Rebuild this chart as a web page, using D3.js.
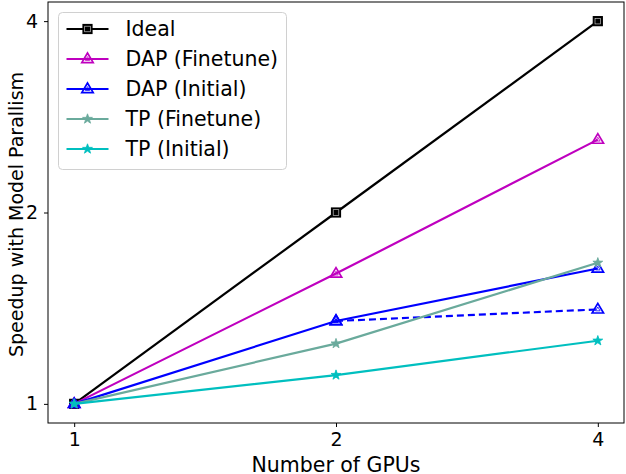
<!DOCTYPE html>
<html>
<head>
<meta charset="utf-8">
<script src="https://cdn.jsdelivr.net/npm/d3@7"></script>
<style>
  body { margin: 0; background: #fff; }
  text { font-family: "DejaVu Sans", sans-serif; }
</style>
</head>
<body>
<div id="wrapper"></div>
<script>
// 1. Access data
const gpus = [1, 2, 4]
const tickLabels = ["1", "2", "4"]

const ideal = [1, 2, 4]
const dapFinetune = [1, 1.603, 2.604]
const dapInitial = [1, 1.35, 1.633]
const dapInitialDashed = [null, 1.35, 1.408]
const tpFinetune = [1, 1.244, 1.667]
const tpInitial = [1, 1.11, 1.257]

const series = [
    { name: "Ideal", values: ideal, color: "#000000", marker: "square", legend: true },
    { name: "DAP (Finetune)", values: dapFinetune, color: "#bf00bf", marker: "triangle", legend: true },
    { name: "DAP (Initial)", values: dapInitial, color: "#0000ff", marker: "triangle", legend: true },
    { name: "dashed", values: dapInitialDashed, color: "#0000ff", marker: "triangle", dash: "7,4", legend: false },
    { name: "TP (Finetune)", values: tpFinetune, color: "#6aaa9c", marker: "star", legend: true },
    { name: "TP (Initial)", values: tpInitial, color: "#00bfbf", marker: "star", legend: true },
]

// 2. Create chart dimensions
let dimensions = {
    width: 626,
    height: 474,
    margin: {
        top: 2,
        right: 2,
        bottom: 51,
        left: 48,
    },
}
dimensions.boundedWidth = dimensions.width
    - dimensions.margin.left
    - dimensions.margin.right
dimensions.boundedHeight = dimensions.height
    - dimensions.margin.top
    - dimensions.margin.bottom

// 3. Draw canvas
const wrapper = d3.select("#wrapper")
    .append("svg")
    .attr("width", dimensions.width)
    .attr("height", dimensions.height)

const bounds = wrapper.append("g")
    .attr("transform", `translate(${dimensions.margin.left},${dimensions.margin.top})`)

// 4. Create scales (log2, with matplotlib-like 5% padding)
const pad = 0.1
const xScale = d3.scaleLog().base(2)
    .domain([Math.pow(2, -pad), Math.pow(2, 2 + pad)])
    .range([0, dimensions.boundedWidth])

const yScale = d3.scaleLog().base(2)
    .domain([Math.pow(2, -pad), Math.pow(2, 2 + pad)])
    .range([dimensions.boundedHeight, 0])

// marker helpers
const starPath = (r) => {
    const pts = []
    for (let i = 0; i < 10; i++) {
        const a = -Math.PI / 2 + i * Math.PI / 5
        const rr = i % 2 === 0 ? r : r * 0.4
        pts.push([rr * Math.cos(a), rr * Math.sin(a)])
    }
    return "M" + pts.map(p => p.join(",")).join("L") + "Z"
}
const triPath = (r) => `M0,${-r}L${r * 0.95},${r * 0.6}L${-r * 0.95},${r * 0.6}Z`

function drawMarker(g, type, color) {
    if (type === "square") {
        g.append("rect")
            .attr("x", -4.5).attr("y", -4.5)
            .attr("width", 9).attr("height", 9)
            .attr("fill", "#000").attr("stroke", color).attr("stroke-width", 1.2)
        g.append("rect")
            .attr("x", -2.8).attr("y", -2.8)
            .attr("width", 5.6).attr("height", 5.6)
            .attr("fill", "#000").attr("stroke", "#ddd").attr("stroke-width", 0.6)
    } else if (type === "triangle") {
        g.append("path")
            .attr("d", triPath(6))
            .attr("fill", "none").attr("stroke", color).attr("stroke-width", 1.7)
        g.append("path")
            .attr("d", triPath(2.4))
            .attr("fill", "none").attr("stroke", color).attr("stroke-width", 0.8)
    } else {
        g.append("path")
            .attr("d", starPath(5.2))
            .attr("fill", color).attr("stroke", color).attr("stroke-width", 0.8)
    }
}

// 5. Draw data
const lineGenerator = d3.line()
    .defined(d => d[1] != null)
    .x(d => xScale(d[0]))
    .y(d => yScale(d[1]))

series.forEach(s => {
    const pts = gpus.map((g, i) => [g, s.values[i]])
    bounds.append("path")
        .datum(pts)
        .attr("d", lineGenerator)
        .attr("fill", "none")
        .attr("stroke", s.color)
        .attr("stroke-width", 2.2)
        .attr("stroke-dasharray", s.dash || null)
    pts.filter(p => p[1] != null).forEach(p => {
        const m = bounds.append("g")
            .attr("transform", `translate(${xScale(p[0])},${yScale(p[1])})`)
        drawMarker(m, s.marker, s.color)
    })
})

// 6. Draw peripherals
bounds.append("rect")
    .attr("width", dimensions.boundedWidth)
    .attr("height", dimensions.boundedHeight)
    .attr("fill", "none")
    .attr("stroke", "#000")
    .attr("stroke-width", 1)

const xAxisGenerator = d3.axisBottom(xScale)
    .tickValues(gpus)
    .tickFormat((d, i) => tickLabels[i])
    .tickSize(4)
    .tickPadding(6)

const xAxis = bounds.append("g")
    .attr("transform", `translate(0,${dimensions.boundedHeight})`)
    .call(xAxisGenerator)
xAxis.select(".domain").remove()
xAxis.selectAll("text")
    .attr("font-size", 19)
    .attr("font-family", "DejaVu Sans")
    .attr("fill", "#000")

xAxis.append("text")
    .attr("x", xScale(2))
    .attr("y", 49)
    .attr("text-anchor", "middle")
    .attr("font-size", 20.5)
    .attr("fill", "#000")
    .text("Number of GPUs")

const yAxisGenerator = d3.axisLeft(yScale)
    .tickValues(ideal)
    .tickFormat((d, i) => tickLabels[i])
    .tickSize(4)
    .tickPadding(6)

const yAxis = bounds.append("g")
    .call(yAxisGenerator)
yAxis.select(".domain").remove()
yAxis.selectAll("text")
    .attr("font-size", 19)
    .attr("font-family", "DejaVu Sans")
    .attr("fill", "#000")

yAxis.append("text")
    .attr("transform", `translate(-25,${yScale(2) + 2}) rotate(-90)`)
    .attr("text-anchor", "middle")
    .attr("font-size", 19)
    .attr("fill", "#000")
    .text("Speedup with Model Parallism")

// legend
const legend = bounds.append("g")
    .attr("transform", `translate(${58.5 - dimensions.margin.left},${12.5 - dimensions.margin.top})`)

legend.append("rect")
    .attr("width", 228)
    .attr("height", 157)
    .attr("rx", 4)
    .attr("fill", "#fff")
    .attr("fill-opacity", 0.85)
    .attr("stroke", "#d0d0d0")
    .attr("stroke-width", 1)

series.filter(s => s.legend).forEach((s, i) => {
    const row = legend.append("g")
        .attr("transform", `translate(0,${16.5 + i * 30})`)
    row.append("line")
        .attr("x1", 8).attr("x2", 50)
        .attr("stroke", s.color)
        .attr("stroke-width", 2.2)
    const m = row.append("g").attr("transform", "translate(29,0)")
    drawMarker(m, s.marker, s.color)
    row.append("text")
        .attr("x", 67)
        .attr("dy", "0.35em")
        .attr("font-size", 20.5)
        .attr("fill", "#000")
        .text(s.name)
})
</script>
</body>
</html>
